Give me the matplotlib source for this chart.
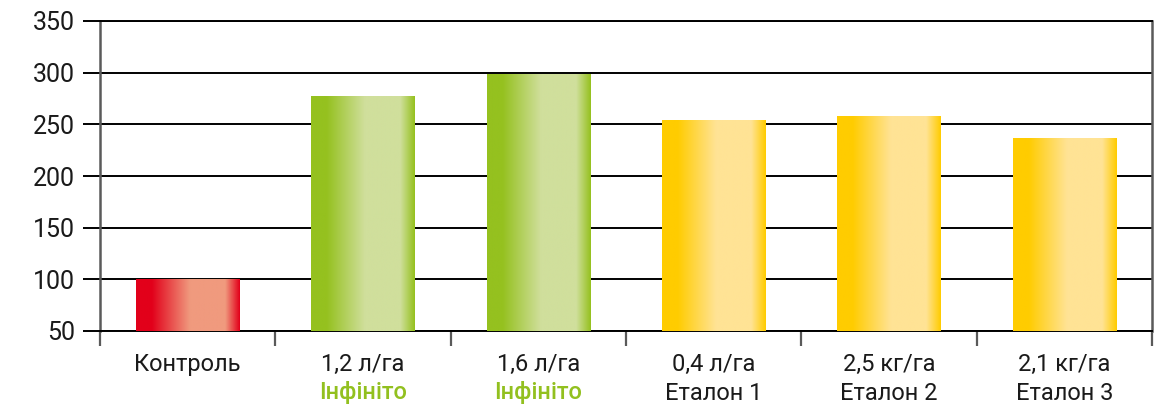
import numpy as np
import matplotlib
matplotlib.use("Agg")
import matplotlib.pyplot as plt
from matplotlib.colors import to_rgb

plt.rcParams['font.family'] = ['Roboto', 'DejaVu Sans']

# Donnees
categories = ['Контроль', '1,2 л/га', '1,6 л/га', '0,4 л/га', '2,5 кг/га', '2,1 кг/га']
sous_titres = ['', 'Інфініто', 'Інфініто', 'Еталон 1', 'Еталон 2', 'Еталон 3']
valeurs = [100, 277, 299, 254, 258, 237]
groupes = ['rouge', 'vert', 'vert', 'jaune', 'jaune', 'jaune']
y_ticks = [50, 100, 150, 200, 250, 300, 350]

# Couleurs (fonce, clair)
couleurs = {
    'rouge': ('#E2001A', '#F09A7E'),
    'vert': ('#95C11F', '#D0DF9C'),
    'jaune': ('#FFCC00', '#FFE395'),
}
vert_texte = '#92C01F'

# profil du degrade horizontal
pos = [0.0, 0.15, 0.52, 0.86, 1.0]
mix = [0.0, 0.0, 1.0, 1.0, 0.0]


def degrade(fonce, clair, n=200):
    t = np.interp(np.linspace(0, 1, n), pos, mix)
    c1 = np.array(to_rgb(fonce))
    c2 = np.array(to_rgb(clair))
    img = c1[None, :] * (1 - t[:, None]) + c2[None, :] * t[:, None]
    return img[None, :, :]


fig = plt.figure(figsize=(11.61, 4.08), dpi=100)
ax = fig.add_axes([100 / 1161, 77 / 408, 1052 / 1161, 310 / 408])

x = np.arange(len(categories))
base = y_ticks[0]
hauteurs = [v - base for v in valeurs]
barres = ax.bar(x, hauteurs, bottom=base, width=0.59, color='none', zorder=3)
for b, g in zip(barres, groupes):
    fonce, clair = couleurs[g]
    im = ax.imshow(degrade(fonce, clair), aspect='auto', zorder=3,
                   extent=[b.get_x(), b.get_x() + b.get_width(), b.get_y(), b.get_y() + b.get_height()])
    im.set_clip_path(b)

ax.set_xlim(-0.5, len(categories) - 0.5)
ax.set_ylim(y_ticks[0], y_ticks[-1])

# Grille
ax.set_yticks(y_ticks)
ax.yaxis.grid(True, color='black', lw=1.4, zorder=1)
ax.set_axisbelow(True)
ax.tick_params(axis='y', direction='out', length=12, width=1.4, color='black',
               labelsize=18, pad=6, colors='#1a1a1a')

# Axes
ax.spines['top'].set_color('black')
ax.spines['top'].set_linewidth(1.4)
ax.spines['bottom'].set_color('black')
ax.spines['bottom'].set_linewidth(1.4)
for s in ['left', 'right']:
    ax.spines[s].set_color('#5a5a5a')
    ax.spines[s].set_linewidth(1.8)

ax.set_xticks(x)
ax.set_xticklabels([])
ax.tick_params(axis='x', which='major', length=0)
ax.set_xticks(np.arange(-0.5, len(categories)), minor=True)
ax.tick_params(axis='x', which='minor', direction='out', length=11, width=1.6, color='#5a5a5a')

# Etiquettes
trans = ax.get_xaxis_transform()
for i in range(len(categories)):
    ax.text(x[i], -0.108, categories[i], transform=trans, ha='center', va='center',
            fontsize=17, color='#1a1a1a')
    if sous_titres[i]:
        c = vert_texte if groupes[i] == 'vert' else '#1a1a1a'
        w = 'medium' if groupes[i] == 'vert' else 'normal'
        ax.text(x[i], -0.2, sous_titres[i], transform=trans, ha='center', va='center',
                fontsize=17, color=c, fontweight=w)

fig.savefig('out.png', dpi=100)
